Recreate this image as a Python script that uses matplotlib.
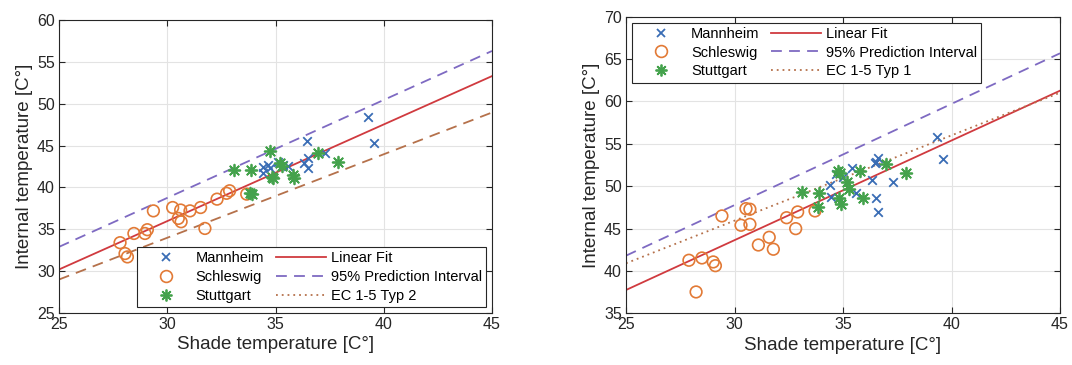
import matplotlib
matplotlib.use("Agg")
import matplotlib.pyplot as plt
from matplotlib.lines import Line2D

plt.rcParams['font.family'] = ['Liberation Sans', 'DejaVu Sans']

# ---- left panel data (EC 1-5 Typ 2) ----
mann_x_l = [39.27, 39.55, 36.47, 37.29, 36.52, 36.30, 36.52, 34.44, 34.67, 34.44, 35.13, 35.36, 34.75, 35.60]
mann_y_l = [48.38, 45.27, 45.60, 44.07, 43.47, 42.90, 42.28, 42.47, 42.68, 41.68, 43.07, 42.68, 42.28, 42.60]
schl_x_l = [27.82, 28.05, 28.16, 28.46, 28.97, 29.08, 29.36, 30.25, 30.62, 30.51, 30.64, 31.05, 31.54, 31.74, 32.30, 32.74, 32.88, 33.67]
schl_y_l = [33.40, 32.10, 31.70, 34.50, 34.50, 34.95, 37.20, 37.60, 37.30, 36.30, 35.90, 37.20, 37.60, 35.10, 38.60, 39.30, 39.60, 39.20]
stut_x_l = [33.08, 33.85, 33.82, 34.75, 35.20, 35.30, 34.82, 34.90, 35.82, 35.87, 36.98, 37.90, 33.90]
stut_y_l = [42.10, 42.10, 39.30, 44.40, 42.90, 42.50, 41.30, 41.10, 41.50, 41.10, 44.07, 43.00, 39.20]
fit_x_l = [25, 45]
fit_y_l = [30.2, 53.3]
pi_y_l = [32.9, 56.3]
ec_y_l = [29.0, 48.95]

# ---- right panel data (EC 1-5 Typ 1) ----
mann_x_r = [39.32, 39.59, 34.40, 34.43, 34.68, 34.98, 35.40, 35.60, 36.32, 36.50, 36.59, 36.47, 36.50, 36.59, 37.32]
mann_y_r = [55.84, 53.25, 50.11, 48.77, 51.40, 51.12, 52.18, 49.16, 50.73, 52.90, 53.36, 52.70, 48.61, 47.00, 50.53]
schl_x_r = [27.90, 28.23, 28.50, 29.02, 29.12, 29.42, 30.30, 30.71, 30.53, 30.71, 31.10, 31.60, 31.79, 32.40, 32.91, 32.82, 33.71]
schl_y_r = [41.26, 37.52, 41.53, 41.06, 40.62, 46.49, 45.39, 45.50, 47.35, 47.28, 43.06, 43.97, 42.56, 46.28, 46.96, 44.99, 47.08]
stut_x_r = [33.10, 33.89, 33.86, 34.78, 34.82, 34.91, 35.17, 35.29, 35.78, 35.91, 36.97, 37.89, 34.85]
stut_y_r = [49.35, 49.24, 47.58, 51.83, 48.58, 47.90, 50.53, 49.64, 51.83, 48.58, 52.58, 51.52, 51.60]
fit_x_r = [25, 45]
fit_y_r = [37.75, 61.27]
pi_y_r = [41.8, 65.68]
ec_y_r = [40.9, 61.03]

c_blue = '#3a6db5'
c_orange = '#e27a36'
c_green = '#44a24c'
c_red = '#d03a3f'
c_purple = '#7e6ac2'
c_brown = '#b5714b'
c_axis = '#262626'

W, H = 1072, 365
fig = plt.figure(figsize=(W / 100, H / 100), dpi=100)
ax1 = fig.add_axes([59 / W, 1 - 313 / H, 433 / W, 293 / H])
ax2 = fig.add_axes([626 / W, 1 - 313.3 / H, 434 / W, 296.6 / H])

dash = (0, (6, 4))
dot = (0, (1, 2.2))
star = (8, 2, 0)


def draw(ax, mx, my, sx, sy, gx, gy, fx, fy, py, ey, ec_label, ec_dashed, ylim, yticks, legloc):
    ax.grid(True, color='#e3e3e3', linewidth=0.8, zorder=0)
    ax.scatter(mx, my, marker='x', s=38, color=c_blue, linewidths=1.3, zorder=3)
    ax.scatter(sx, sy, marker='o', s=70, facecolors='none', edgecolors=c_orange, linewidths=1.2, zorder=3)
    ax.scatter(gx, gy, marker=star, s=70, color=c_green, linewidths=1.3, zorder=3)
    ax.plot(fx, fy, color=c_red, lw=1.3, zorder=2)
    ax.plot(fx, py, color=c_purple, lw=1.3, linestyle=dash, zorder=2)
    ax.plot(fx, ey, color=c_brown, lw=1.3, linestyle=dash if ec_dashed else dot, zorder=2)

    handles = [
        Line2D([], [], marker='x', ls='none', color=c_blue, ms=6, mew=1.3),
        Line2D([], [], marker='o', ls='none', mfc='none', mec=c_orange, ms=8.5, mew=1.2),
        Line2D([], [], marker=star, ls='none', color=c_green, ms=8.5, mew=1.3),
        Line2D([], [], color=c_red, lw=1.3),
        Line2D([], [], color=c_purple, lw=1.3, ls=dash),
        Line2D([], [], color=c_brown, lw=1.3, ls=dot),
    ]
    labels = ['Mannheim', 'Schleswig', 'Stuttgart', 'Linear Fit', '95% Prediction Interval', ec_label]
    leg = ax.legend(handles, labels, ncol=2, loc=legloc, fontsize=10.5, frameon=True,
                    fancybox=False, edgecolor=c_axis, framealpha=1, handlelength=3.4,
                    handletextpad=0.35, columnspacing=0.8, labelspacing=0.32, borderpad=0.3,
                    borderaxespad=0.4)
    leg.get_frame().set_linewidth(0.8)

    ax.set_xlim(25, 45)
    ax.set_ylim(*ylim)
    ax.set_xticks([25, 30, 35, 40, 45])
    ax.set_yticks(yticks)
    ax.tick_params(direction='in', length=4, width=0.8, colors=c_axis, labelsize=11.5,
                   top=True, right=True, pad=3)
    for sp in ax.spines.values():
        sp.set_color(c_axis)
        sp.set_linewidth(0.8)
    ax.set_xlabel('Shade temperature [C°]', fontsize=13.5, color=c_axis, labelpad=3)
    ax.set_ylabel('Internal temperature [C°]', fontsize=13.5, color=c_axis, labelpad=3)


draw(ax1, mann_x_l, mann_y_l, schl_x_l, schl_y_l, stut_x_l, stut_y_l,
     fit_x_l, fit_y_l, pi_y_l, ec_y_l, 'EC 1-5 Typ 2', True, (25, 60),
     [25, 30, 35, 40, 45, 50, 55, 60], 'lower right')
draw(ax2, mann_x_r, mann_y_r, schl_x_r, schl_y_r, stut_x_r, stut_y_r,
     fit_x_r, fit_y_r, pi_y_r, ec_y_r, 'EC 1-5 Typ 1', False, (35, 70),
     [35, 40, 45, 50, 55, 60, 65, 70], 'upper left')

fig.savefig('out.png', dpi=100)
